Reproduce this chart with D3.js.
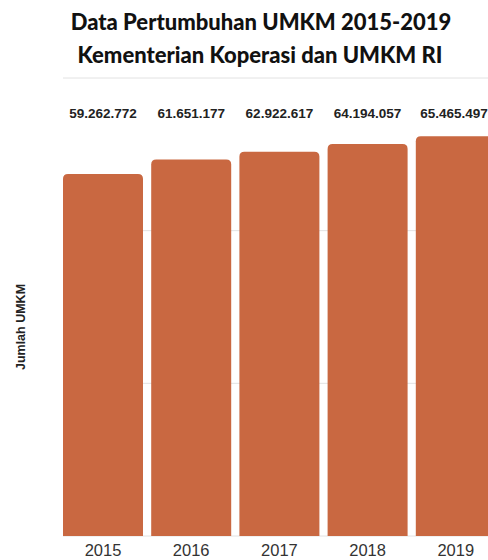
<!DOCTYPE html>
<html>
<head>
<meta charset="utf-8">
<script src="https://cdn.jsdelivr.net/npm/d3@7"></script>
<style>
  body { margin: 0; background: #fff; }
  svg { display: block; }
</style>
</head>
<body>
<div id="chart"></div>
<script>
// Data UMKM per tahun
const years = ['2015', '2016', '2017', '2018', '2019'];
const umkm = [59262772, 61651177, 62922617, 64194057, 65465497];
const yTicks = [0, 25000000, 50000000, 75000000];

const width = 488, height = 560;
const svg = d3.select('#chart').append('svg')
  .attr('width', width).attr('height', height);

const x = d3.scaleBand().domain(years)
  .range([58.9, 499.9]).paddingInner(0.093).paddingOuter(0.0465);
const y = d3.scaleLinear().domain([0, 75000000]).range([536, 78]);

// Title
const title = svg.append('text')
  .attr('text-anchor', 'middle')
  .attr('font-family', 'Lato, sans-serif')
  .attr('font-weight', 900)
  .attr('font-size', 22)
  .attr('fill', '#111');
title.append('tspan').attr('x', 261).attr('y', 30).text('Data Pertumbuhan UMKM 2015-2019');
title.append('tspan').attr('x', 260).attr('y', 63).text('Kementerian Koperasi dan UMKM RI');

// Gridlines
svg.append('g')
  .selectAll('line')
  .data(yTicks)
  .join('line')
  .attr('x1', 63).attr('x2', width)
  .attr('y1', d => y(d)).attr('y2', d => y(d))
  .attr('stroke', '#e2e2e2')
  .attr('stroke-width', 1);

// Bars with rounded top corners
const r = 5;
function barPath(x0, y0, w, h) {
  return `M${x0},${y0 + h}V${y0 + r}Q${x0},${y0} ${x0 + r},${y0}H${x0 + w - r}Q${x0 + w},${y0} ${x0 + w},${y0 + r}V${y0 + h}Z`;
}
svg.append('g')
  .selectAll('path')
  .data(umkm)
  .join('path')
  .attr('d', (d, i) => barPath(x(years[i]), y(d), x.bandwidth(), y(0) - y(d)))
  .attr('fill', '#c96841');

// Value labels
const fmt = v => d3.format(',')(v).replace(/,/g, '.');
svg.append('g')
  .selectAll('text')
  .data(umkm)
  .join('text')
  .attr('x', (d, i) => Math.min(x(years[i]) + x.bandwidth() / 2, width - 34))
  .attr('y', 118)
  .attr('text-anchor', 'middle')
  .attr('font-family', 'Liberation Sans, Arial, sans-serif')
  .attr('font-weight', 'bold')
  .attr('font-size', 13.5)
  .attr('fill', '#222')
  .text(d => fmt(d));

// X axis labels
svg.append('g')
  .selectAll('text')
  .data(years)
  .join('text')
  .attr('x', d => x(d) + x.bandwidth() / 2)
  .attr('y', 556)
  .attr('text-anchor', 'middle')
  .attr('font-family', 'Liberation Sans, Arial, sans-serif')
  .attr('font-size', 16.5)
  .attr('fill', '#333')
  .text(d => d);

// Y axis title
svg.append('text')
  .attr('transform', 'translate(25,327) rotate(-90)')
  .attr('text-anchor', 'middle')
  .attr('font-family', 'Liberation Sans, Arial, sans-serif')
  .attr('font-weight', 'bold')
  .attr('font-size', 12.5)
  .attr('fill', '#222')
  .text('Jumlah UMKM');
</script>
</body>
</html>
